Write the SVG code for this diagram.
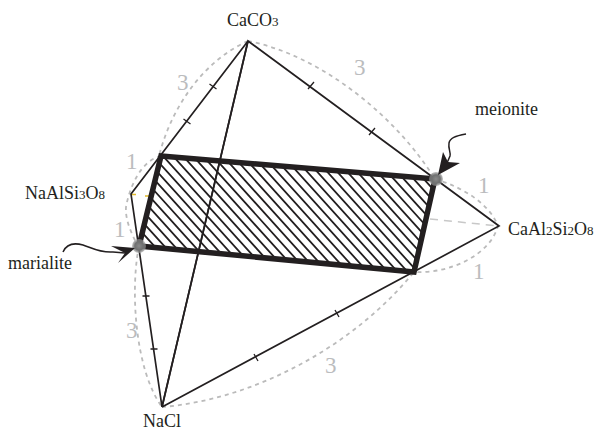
<svg xmlns="http://www.w3.org/2000/svg" width="599" height="430" viewBox="0 0 599 430">
<style>
text{font-family:"Liberation Serif","Times New Roman",serif;fill:#231f20;font-size:18px}
.n{fill:#bbbcbe;font-size:23px}
.s{font-size:13px}
.d{fill:none;stroke:#bbb;stroke-width:1.8;stroke-dasharray:4 4}
.l{fill:none;stroke:#231f20;stroke-width:1.7}
.t{fill:none;stroke:#231f20;stroke-width:1.3}
.h{fill:none;stroke:#231f20;stroke-width:1.8}
.b{fill:none;stroke:#231f20;stroke-width:5.500;stroke-linejoin:miter}
.a{fill:none;stroke:#231f20;stroke-width:1.5}
.f{fill:#231f20}
</style>
<defs>
<clipPath id="c"><polygon points="161,156 435,179 414,272 139,246"/></clipPath>
<radialGradient id="g"><stop offset="0" stop-color="#8a8a8a"/><stop offset="0.6" stop-color="#6f7070"/><stop offset="1" stop-color="#9a9a9a" stop-opacity="0.6"/></radialGradient>
</defs>
<g id="connectors">
<path class="d" d="M248,41C205,60 172,105 159,156"/>
<path class="d" d="M248,41C320,55 395,115 435,179"/>
<path class="d" d="M161,156C142,160 130,185 126,207C125,220 132,235 138,246"/>
<path class="d" d="M139,246C130,290 135,370 162,407"/>
<path class="d" d="M162,407C250,400 350,350 414,272"/>
<path class="d" d="M435,179C465,188 490,205 498,226C490,255 450,274 414,272"/>
<path d="M430,219L499,226" fill="none" stroke="#c8c8c8" stroke-width="1.5" stroke-dasharray="8 6"/>
<path d="M131,194.500H136M145,196H150" fill="none" stroke="#e0b92c" stroke-width="1.500"/>
<path class="l" d="M162,407L248,41L499,226L162,407M248,41L131,194L162,407"/>
<path class="t" d="M183.500,119L190.500,124M209.500,84L216.500,89M142.500,296H149.500M150.500,349H157.500M254,354L258,361M335,310L339,317M314,82L308,89M375,128L369,135"/>
</g>
<g id="hatch" clip-path="url(#c)">
<path class="h" d="M24,135l140,155M34,135l140,155M44,135l140,155M54,135l140,155M64,135l140,155M74,135l140,155M84,135l140,155M94,135l140,155M104,135l140,155M114,135l140,155M124,135l140,155M134,135l140,155M144,135l140,155M154,135l140,155M164,135l140,155M174,135l140,155M184,135l140,155M194,135l140,155M204,135l140,155M214,135l140,155M224,135l140,155M234,135l140,155M244,135l140,155M254,135l140,155M264,135l140,155M274,135l140,155M284,135l140,155M294,135l140,155M304,135l140,155M314,135l140,155M324,135l140,155M334,135l140,155M344,135l140,155M354,135l140,155M364,135l140,155M374,135l140,155M384,135l140,155M394,135l140,155M404,135l140,155M414,135l140,155"/>
</g>
<g id="rectangle">
<polygon class="b" points="161,156 435,179 414,272 139,246"/>
<path class="l" d="M248,41L162,407"/>
</g>
<g id="marialite">
<circle cx="139" cy="246" r="7" fill="url(#g)"/>
<path class="a" d="M63,252C66,245 72,242 83,245C92,248 100,253 113,252L125,253"/>
<polygon class="f" points="111,246 135,248 118,263 125,253"/>
<text x="8" y="269">marialite</text>
</g>
<g id="meionite">
<circle cx="436" cy="179" r="7" fill="url(#g)"/>
<path class="a" d="M466,134C455,136 450,138 449,143C448,149 451,152 450,156L447,163"/>
<polygon class="f" points="443,152 438,175 460,163 448,162"/>
<text x="475" y="115">meionite</text>
</g>
<g id="caco3"><text x="227" y="26">CaCO<tspan class="s">3</tspan></text></g>
<g id="naalsi3o8"><text x="25" y="199">NaAlSi<tspan class="s">3</tspan>O<tspan class="s">8</tspan></text></g>
<g id="caal2si2o8"><text x="508" y="235">CaAl<tspan class="s">2</tspan>Si<tspan class="s">2</tspan>O<tspan class="s">8</tspan></text></g>
<g id="nacl"><text x="143" y="427">NaCl</text></g>
<g id="numbers">
<text class="n" x="177" y="90">3</text>
<text class="n" x="354" y="75">3</text>
<text class="n" x="126" y="169">1</text>
<text class="n" x="114" y="237">1</text>
<text class="n" x="478" y="193">1</text>
<text class="n" x="473" y="279">1</text>
<text class="n" x="126" y="338">3</text>
<text class="n" x="325" y="373">3</text>
</g>
</svg>
